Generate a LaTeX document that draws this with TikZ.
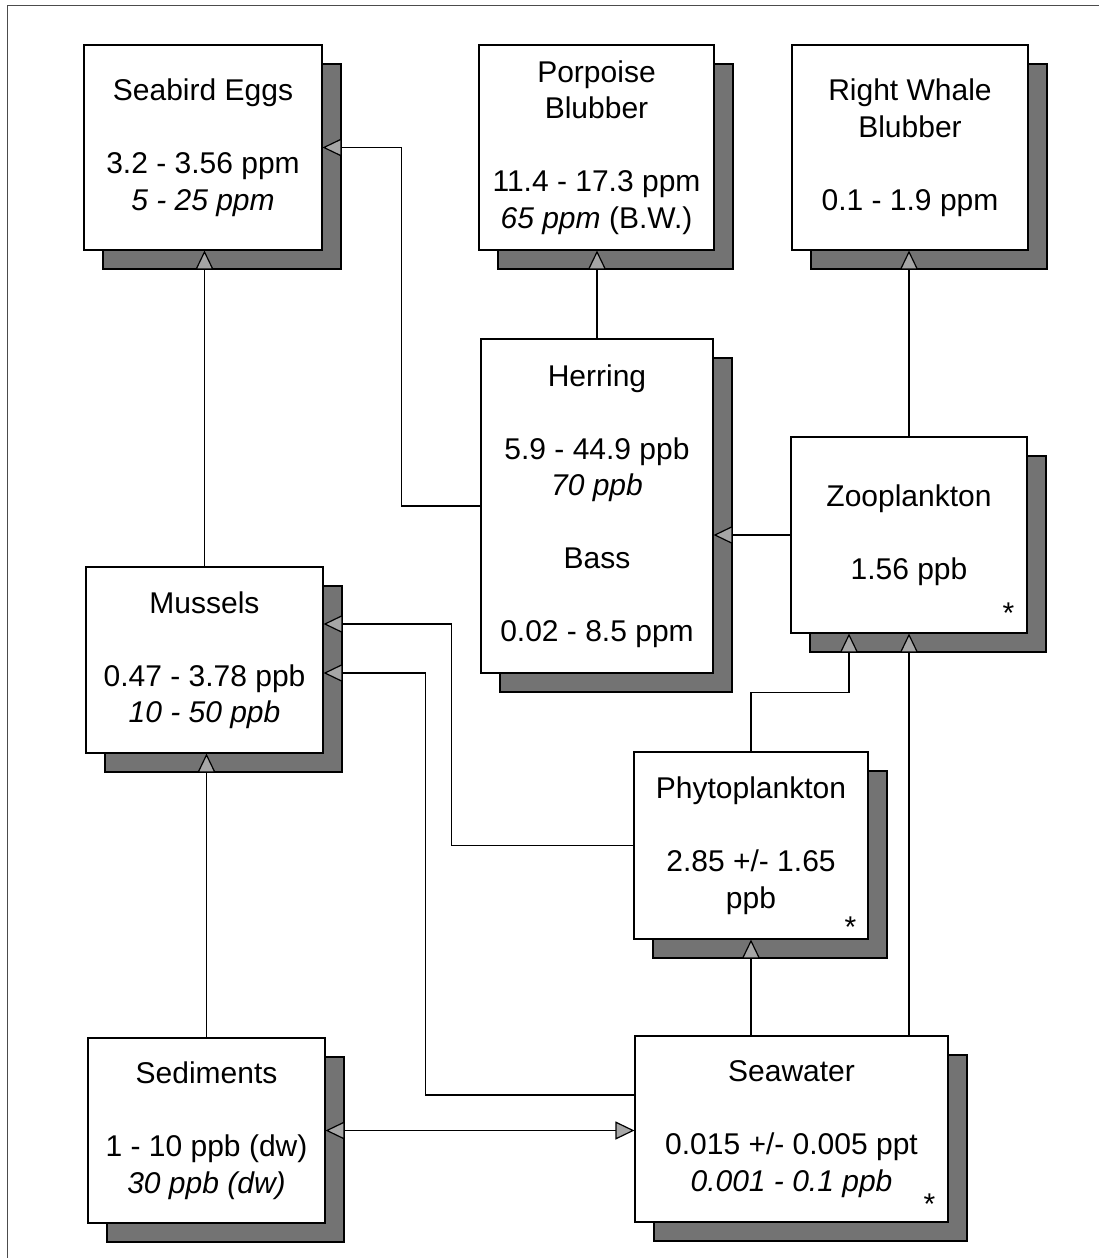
\documentclass[tikz,border=0pt]{standalone}
\usepackage{fontspec}
\setmainfont{Liberation Sans}
\usetikzlibrary{arrows.meta,shadows}

\tikzset{
  tip/.tip={Triangle[length=19pt,width=18pt,fill=black!35,line width=1.2pt]}
}

\begin{document}
\begin{tikzpicture}[x=1pt,y=-1pt,
  box/.style={draw=black, line width=1.1pt, fill=white, align=center, inner sep=0pt,
    font=\fontsize{30}{36.5}\selectfont,
    general shadow={shadow xshift=19pt, shadow yshift=-19pt, fill=black!55, draw=black, line width=1.1pt}},
  flow/.style={line width=1.1pt, -tip},
  both/.style={line width=1.1pt, tip-tip},
  star/.style={font=\fontsize{30}{36}\selectfont, inner sep=0pt, anchor=base}]
\useasboundingbox (0,0) rectangle (1099,1258);
\draw[line width=1pt, black!70] (7,1258) -- (7,5) -- (1099,5);
\node [box, minimum width=238pt, minimum height=205pt] (eggs) at (203,147.5) {Seabird Eggs\\[36.5pt]3.2 - 3.56 ppm\\\textit{5 - 25 ppm}};
\node [box, minimum width=235pt, minimum height=205pt] (porpoise) at (596.5,147.5) {Porpoise\\Blubber\\[36.5pt]11.4 - 17.3 ppm\\\textit{65 ppm} (B.W.)};
\node [box, minimum width=236pt, minimum height=205pt] (whale) at (910,147.5) {Right Whale\\Blubber\\[36.5pt]0.1 - 1.9 ppm};
\node [box, minimum width=232pt, minimum height=334pt] (herring) at (597,506) {Herring\\[36.5pt]5.9 - 44.9 ppb\\\textit{70 ppb}\\[36.5pt]Bass\\[36.5pt]0.02 - 8.5 ppm};
\node [box, minimum width=236pt, minimum height=196pt] (zoo) at (909,535) {Zooplankton\\[36.5pt]1.56 ppb};
\node [box, minimum width=237pt, minimum height=186pt] (mussels) at (204.5,660) {Mussels\\[36.5pt]0.47 - 3.78 ppb\\\textit{10 - 50 ppb}};
\node [box, minimum width=234pt, minimum height=187pt] (phyto) at (751,845.5) {Phytoplankton\\[36.5pt]2.85 +/- 1.65\\ppb};
\node [box, minimum width=237pt, minimum height=185pt] (sed) at (206.5,1130.5) {Sediments\\[36.5pt]1 - 10 ppb (dw)\\\textit{30 ppb (dw)}};
\node [box, minimum width=313pt, minimum height=186pt] (sea) at (791.5,1129) {Seawater\\[36.5pt]0.015 +/- 0.005 ppt\\\textit{0.001 - 0.1 ppb}};
\node [star] (zoostar) at ([shift={(-19pt,10pt)}]zoo.south east) {*};
\node [star] (phytostar) at ([shift={(-18pt,2pt)}]phyto.south east) {*};
\node [star] (seastar) at ([shift={(-19pt,8pt)}]sea.south east) {*};
\draw[flow] (herring.west) -- ++(-79,0) |- (eggs.east);
\draw[flow] (mussels.north) -- (mussels.north |- eggs.south);
\draw[flow] (herring.north) -- (herring.north |- porpoise.south);
\draw[flow] (zoo.north) -- (zoo.north |- whale.south);
\draw[flow] (zoo.west) -- (zoo.west -| herring.east);
\draw[flow] (phyto.north) -- ++(0,-59) -| ([xshift=-60pt]zoo.south);
\draw[flow] (zoo.south |- sea.north) -- (zoo.south);
\draw[flow] (phyto.west) -- ++(-182,0) |- ([yshift=36pt]mussels.east);
\draw[flow] ([yshift=34pt]sea.west) -- ++(-209,0) |- ([yshift=-13pt]mussels.east);
\draw[flow] (sed.north) -- (sed.north |- mussels.south);
\draw[flow] (phyto.south |- sea.north) -- (phyto.south);
\draw[both] (sed.east) -- (sed.east -| sea.west);
\end{tikzpicture}
\end{document}
